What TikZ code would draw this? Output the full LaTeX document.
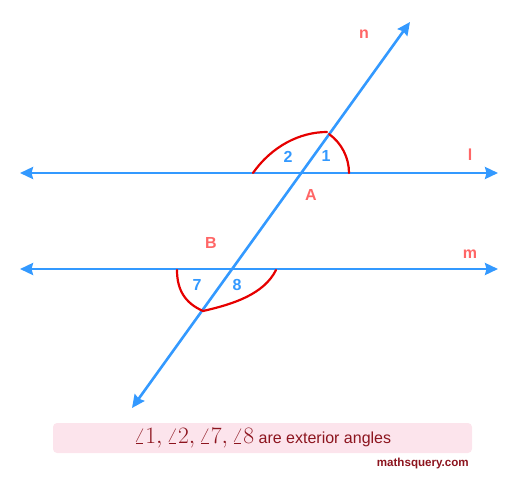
\documentclass[tikz,border=0pt]{standalone}
\usepackage{graphicx}
\usepackage{fontspec}
\setmainfont{Liberation Sans}
\usetikzlibrary{arrows.meta}
\definecolor{lineblue}{RGB}{51,153,255}
\definecolor{lblred}{RGB}{255,102,102}
\definecolor{arcred}{RGB}{230,0,0}
\definecolor{boxpink}{RGB}{252,228,236}
\definecolor{txtred}{RGB}{140,20,30}
\tikzset{
  bline/.style={draw=lineblue,line width=2.6pt,{Stealth[length=13pt,width=12pt,inset=1.5pt]}-{Stealth[length=13pt,width=12pt,inset=1.5pt]}},
  arcline/.style={draw=arcred,line width=2.2pt,line cap=round},
  numlbl/.style={text=lineblue,font=\fontsize{16}{19}\selectfont\bfseries,inner sep=0pt},
  ptlbl/.style={text=lblred,font=\fontsize{16}{19}\selectfont\bfseries,inner sep=0pt},
}
\begin{document}
\begin{tikzpicture}[x=1pt,y=-1pt]
\useasboundingbox (0,0) rectangle (521,484);
% lines
\coordinate (L1) at (20,173);
\coordinate (L2) at (498,173);
\coordinate (M1) at (20,269);
\coordinate (M2) at (498,269);
\coordinate (N1) at (132,408);
\coordinate (N2) at (410,22);
\coordinate (A) at (301.3,173);
\coordinate (B) at (232.1,269);
\draw[bline] (L1) -- (L2);
\draw[bline] (M1) -- (M2);
\draw[bline] (N1) -- (N2);
% arcs
\coordinate (P1) at (327,132);
\coordinate (P2) at (253,173);
\coordinate (P3) at (349,173);
\draw[arcline] (P2) .. controls (272,146) and (300,132) .. (P1);
\draw[arcline] (P3) arc[start angle=0,end angle=-54.2,radius=48];
\coordinate (Q1) at (203,311);
\coordinate (Q2) at (177,270);
\coordinate (Q3) at (276,270);
\draw[arcline] (Q2) .. controls (177,290) and (185,303) .. (Q1);
\draw[arcline] (Q1) .. controls (234,304) and (264,294) .. (Q3);
% labels
\node[numlbl] (n1) at (326,156) {1};
\node[numlbl] (n2) at (288,157) {2};
\node[numlbl] (n7) at (197,285) {7};
\node[numlbl] (n8) at (237,285) {8};
\node[ptlbl] (lA) at (311,195) {A};
\node[ptlbl] (lB) at (211,243) {B};
\node[ptlbl] (ln) at (364,34) {n};
\node[ptlbl] (ll) at (470,155) {l};
\node[ptlbl] (lm) at (470,254) {m};
% caption box
\node[fill=boxpink,rounded corners=4pt,minimum width=419pt,minimum height=30pt,inner sep=0pt,text=txtred,font=\fontsize{16}{19}\selectfont] (cap) at (262.5,438) {\scalebox{1.36}{$\angle 1, \angle 2, \angle 7, \angle 8$} are exterior angles};
\node[anchor=east,text=txtred,font=\fontsize{11.6}{14}\selectfont\bfseries,inner sep=0pt] (site) at (469,463) {mathsquery.com};
\end{tikzpicture}
\end{document}
